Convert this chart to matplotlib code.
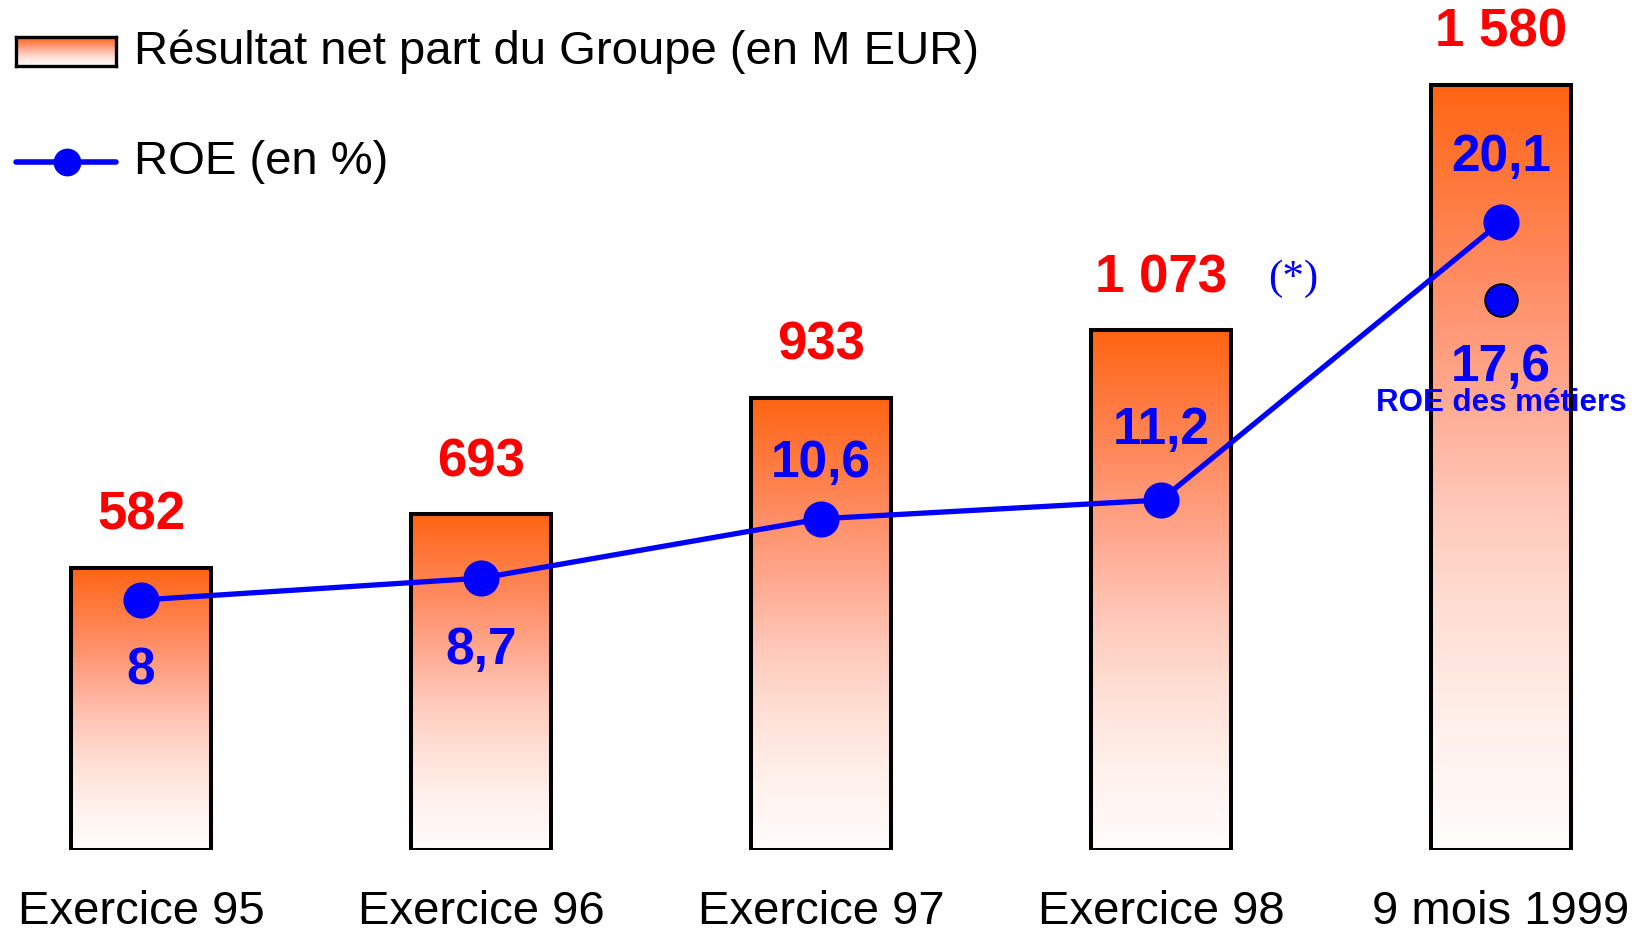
import numpy as np
import matplotlib
matplotlib.use("Agg")
import matplotlib.pyplot as plt
from matplotlib.colors import LinearSegmentedColormap
from matplotlib.lines import Line2D

# data
periods = ["Exercice 95", "Exercice 96", "Exercice 97", "Exercice 98", "9 mois 1999"]
resultat = [582, 693, 933, 1073, 1580]
resultat_labels = ["582", "693", "933", "1 073", "1 580"]
roe = [8, 8.7, 10.6, 11.2, 20.1]
roe_labels = ["8", "8,7", "10,6", "11,2", "20,1"]
roe_metiers = 17.6
roe_metiers_label = "17,6"

plt.rcParams["font.family"] = ["Liberation Sans", "DejaVu Sans"]

W, H = 1643, 936
fig = plt.figure(figsize=(W / 100, H / 100), dpi=100)
base = 86  # baseline, px from bottom
ax = fig.add_axes([0, base / H, 1, 1 - base / H])
x = np.arange(len(periods))
step, x0 = 340, 141
for s in ax.spines.values():
    s.set_visible(False)
ax.set_yticks([])
ax.set_xticks(x, periods, fontsize=34)
ax.tick_params(axis="x", length=0, pad=29)

grad_cmap = LinearSegmentedColormap.from_list("grad", [
    (0.0, "#FFFDFC"), (0.15, "#FFF1EC"), (0.3, "#FFE0D6"), (0.45, "#FFC8B8"),
    (0.6, "#FFA88F"), (0.76, "#FF8A5E"), (0.9, "#FF7433"), (1.0, "#FF6412")])
grad = np.linspace(0, 1, 256).reshape(-1, 1)

bars = ax.bar(x, resultat, width=0.41, facecolor="none", edgecolor="black",
              linewidth=2.9, zorder=3)
for b in bars:
    l, bt = b.get_x(), b.get_y()
    im = ax.imshow(grad, cmap=grad_cmap, origin="lower", aspect="auto",
                   extent=(l, l + b.get_width(), bt, bt + b.get_height()), zorder=2)
    im.set_clip_path(b)
ax.set_xlim(-x0 / step, (W - x0) / step)
ax.set_ylim(0, 1755)

for xi, v, lab in zip(x, resultat, resultat_labels):
    ax.annotate(lab, (xi, v), xytext=(0, 27.5), textcoords="offset points",
                ha="center", va="baseline", fontsize=38, fontweight="bold",
                color="#FF0000")

ax.annotate("(*)", (x[3], resultat[3]), xytext=(95, 30), textcoords="offset points",
            ha="center", va="baseline", fontsize=31, color="#0000FF",
            family=["Liberation Serif", "DejaVu Serif"])

# ROE on its own scale, sharing the zero baseline
ax2 = ax.twinx()
ax2.set_ylim(0, 27.2)
ax2.set_yticks([])
for s in ax2.spines.values():
    s.set_visible(False)
ax2.plot(x, roe, color="#0000FF", lw=3.8, marker="o", markersize=26,
         markeredgewidth=0, zorder=5)
ax2.plot([x[-1]], [roe_metiers], linestyle="none", marker="o", markersize=23.5,
         markerfacecolor="#0000FF", markeredgecolor="black", markeredgewidth=1.3)

roe_offsets = [-60.5, -62, 30, 40, 36.7]
for xi, v, lab, dy in zip(x, roe, roe_labels, roe_offsets):
    ax2.annotate(lab, (xi, v), xytext=(0, dy), textcoords="offset points",
                 ha="center", va="baseline", fontsize=37, fontweight="bold",
                 color="#0000FF")
ax2.annotate(roe_metiers_label, (x[-1], roe_metiers), xytext=(0, -58.3),
             textcoords="offset points", ha="center", va="baseline", fontsize=37,
             fontweight="bold", color="#0000FF")
ax2.annotate("ROE des métiers", (x[-1], roe_metiers), xytext=(0, -80),
             textcoords="offset points", ha="center", va="baseline", fontsize=22.5,
             fontweight="bold", color="#0000FF")

# legend drawn by hand
lax = fig.add_axes([16 / W, 1 - 66 / H, 100 / W, 29 / H])
lax.imshow(grad, cmap=grad_cmap, origin="lower", aspect="auto", extent=(0, 1, 0, 1))
lax.set_xticks([])
lax.set_yticks([])
for s in lax.spines.values():
    s.set_linewidth(2.4)
fig.text(134 / W, 1 - 64 / H, "Résultat net part du Groupe (en M EUR)",
         fontsize=34, va="baseline")
fig.add_artist(Line2D([16 / W, 116 / W], [1 - 162 / H] * 2, transform=fig.transFigure,
                      color="#0000FF", lw=4, solid_capstyle="round"))
fig.add_artist(Line2D([67 / W], [1 - 162 / H], transform=fig.transFigure,
                      color="#0000FF", marker="o", markersize=20, markeredgewidth=0))
fig.text(134 / W, 1 - 174 / H, "ROE (en %)", fontsize=34, va="baseline")

fig.savefig("out.png", dpi=100)
